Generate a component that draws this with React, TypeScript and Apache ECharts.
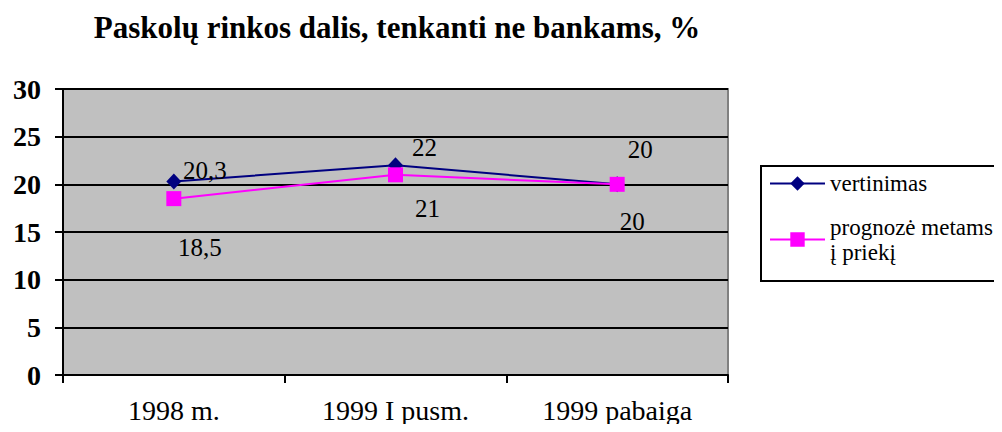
import React, { useEffect, useRef } from "react";
import * as echarts from "echarts";

const categories = ["1998 m.", "1999 I pusm.", "1999 pabaiga"];
const vertinimas = [20.3, 22, 20];
const prognoze = [18.5, 21, 20];
const vertinimasLabels = ["20,3", "22", "20"];
const prognozeLabels = ["18,5", "21", "20"];
const yTicks = [0, 5, 10, 15, 20, 25, 30];

const seriesNames = ["vertinimas", "prognozė metams\nį priekį"];

const offsetsA = [[31, -11], [29, -18], [23, -35]];
const offsetsB = [[26, 49], [32, 34], [15, 37]];

const FONT = "Liberation Serif";

export default function App() {
  const ref = useRef<HTMLDivElement>(null);
  useEffect(() => {
    if (!ref.current) return;
    const chart = echarts.init(ref.current, null, { renderer: "svg" });
    const mkData = (vals: number[], labels: string[], offs: number[][]) =>
      vals.map((v, i) => ({
        value: v,
        label: {
          show: true,
          position: "inside",
          offset: offs[i],
          formatter: labels[i],
          color: "#000",
          fontSize: 25,
          fontFamily: FONT,
        },
      }));
    chart.setOption({
      animation: false,
      title: {
        text: "Paskolų rinkos dalis, tenkanti ne bankams, %",
        left: 397,
        top: 12,
        padding: 0,
        textAlign: "center",
        textStyle: { fontFamily: FONT, fontSize: 31, fontWeight: "bold", color: "#000" },
      },
      legend: {
        orient: "vertical",
        left: 761,
        top: 166,
        padding: [5, 20, 4, 8],
        itemGap: 6,
        itemWidth: 55,
        itemHeight: 18,
        borderColor: "#000",
        borderWidth: 2,
        backgroundColor: "#fff",
        textStyle: { fontFamily: FONT, fontSize: 23, color: "#000", lineHeight: 25 },
        data: [
          { name: seriesNames[0] },
          { name: seriesNames[1], textStyle: { padding: [25, 0, 0, 0] } },
        ],
      },
      grid: {
        left: 63,
        right: 274,
        top: 89,
        bottom: 57,
        show: true,
        backgroundColor: "#C0C0C0",
        borderColor: "#808080",
        borderWidth: 2,
        containLabel: false,
      },
      xAxis: {
        type: "category",
        data: categories,
        boundaryGap: true,
        axisLine: { lineStyle: { color: "#000", width: 2 } },
        axisTick: { show: true, length: 8, lineStyle: { color: "#000", width: 2 } },
        axisLabel: { margin: 21, fontFamily: FONT, fontSize: 28, color: "#000" },
        splitLine: { show: false },
      },
      yAxis: {
        type: "value",
        min: yTicks[0],
        max: yTicks[yTicks.length - 1],
        interval: 5,
        axisLine: { show: true, lineStyle: { color: "#000", width: 2 } },
        axisTick: { show: true, length: 8, lineStyle: { color: "#000", width: 2 } },
        axisLabel: { margin: 22, fontFamily: FONT, fontSize: 28, fontWeight: "bold", color: "#000" },
        splitLine: { show: true, lineStyle: { color: "#000", width: 2 } },
      },
      series: [
        {
          name: seriesNames[0],
          type: "line",
          data: mkData(vertinimas, vertinimasLabels, offsetsA),
          color: "#000080",
          lineStyle: { color: "#000080", width: 2 },
          itemStyle: { color: "#000080" },
          symbol: "diamond",
          symbolSize: [15, 16],
          z: 3,
        },
        {
          name: seriesNames[1],
          type: "line",
          data: mkData(prognoze, prognozeLabels, offsetsB),
          color: "#FF00FF",
          lineStyle: { color: "#FF00FF", width: 2 },
          itemStyle: { color: "#FF00FF" },
          symbol: "rect",
          symbolSize: 15,
          z: 4,
        },
      ],
    });
    return () => chart.dispose();
  }, []);
  return <div ref={ref} style={{ width: 1002, height: 432, margin: -8 }} />;
}
